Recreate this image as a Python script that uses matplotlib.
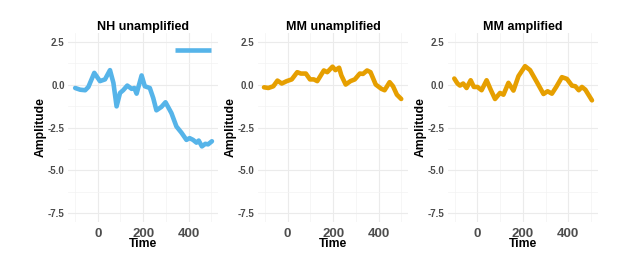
import matplotlib
matplotlib.use("Agg")
from matplotlib import pyplot as plt
from matplotlib.ticker import MultipleLocator

plt.rcParams['font.family'] = ['Liberation Sans', 'DejaVu Sans']

# NH unamplified
nh_time = [-99, -77, -55, -41, -15, 10, 32, 54, 69, 83, 98, 112, 130, 149, 161, 171,
           193, 207, 229, 244, 258, 280, 298, 324, 346, 368, 390, 404, 419, 434, 444,
           458, 473, 485, 502]
nh_amp = [-0.2, -0.3, -0.33, -0.14, 0.68, 0.2, 0.3, 0.84, 0.1, -1.27, -0.49, -0.33,
          -0.06, -0.25, -0.2, -0.53, 0.53, -0.1, -0.2, -0.78, -1.5, -1.3, -1.03,
          -1.66, -2.44, -2.8, -3.22, -3.12, -3.22, -3.38, -3.26, -3.6, -3.45, -3.48, -3.3]

# MM unamplified
mmu_time = [-104, -85, -63, -45, -26, -4, 18, 42, 58, 80, 98, 115, 130, 159, 174, 197,
            210, 226, 236, 255, 276, 295, 317, 331, 349, 364, 387, 412, 426, 448, 463,
            480, 499]
mmu_amp = [-0.16, -0.2, -0.1, 0.23, 0.06, 0.2, 0.3, 0.72, 0.64, 0.64, 0.3, 0.3, 0.2,
           0.82, 0.72, 1.04, 0.84, 0.98, 0.53, 0.0, 0.2, 0.3, 0.64, 0.62, 0.82, 0.72,
           0.0, -0.25, -0.33, 0.14, -0.1, -0.59, -0.84]

# MM amplified
mma_time = [-101, -87, -76, -62, -47, -29, -15, 1, 19, 41, 59, 78, 100, 115, 137, 159,
            181, 210, 232, 262, 291, 309, 328, 347, 372, 394, 416, 431, 446, 460, 475, 504]
mma_amp = [0.35, 0.06, -0.06, 0.06, -0.2, 0.25, -0.14, -0.14, -0.33, 0.25, -0.3, -0.84,
           -0.49, -0.59, 0.1, -0.35, 0.49, 1.07, 0.84, 0.14, -0.55, -0.39, -0.53, -0.14,
           0.43, 0.33, -0.06, -0.1, -0.33, -0.14, -0.3, -0.92]

# short horizontal bar in the first panel
bar_time = [340, 500]
bar_amp = [2.0, 2.0]

titles = ["NH unamplified", "MM unamplified", "MM amplified"]
series = [(nh_time, nh_amp), (mmu_time, mmu_amp), (mma_time, mma_amp)]
colors = ["#56B4E9", "#E69F00", "#E69F00"]

fig = plt.figure(figsize=(6.17, 2.66), dpi=100)
lefts = [0.1104, 0.4183, 0.7256]

for i, (title, (t, a), col) in enumerate(zip(titles, series, colors)):
    ax = fig.add_axes([lefts[i], 0.1654, 0.2434, 0.7105])
    ax.plot(t, a, color=col, lw=3.3, solid_capstyle='round', solid_joinstyle='round')
    if i == 0:
        ax.plot(bar_time, bar_amp, color=col, lw=3.3, solid_capstyle='butt')
    ax.set_xlim(-130, 530)
    ax.set_ylim(-8, 3)
    ax.xaxis.set_major_locator(MultipleLocator(200))
    ax.xaxis.set_minor_locator(MultipleLocator(100))
    ax.yaxis.set_major_locator(MultipleLocator(2.5))
    ax.yaxis.set_minor_locator(MultipleLocator(1.25))
    ax.grid(which='major', color='#ebebeb', lw=0.8)
    ax.grid(which='minor', color='#f3f3f3', lw=0.5)
    ax.set_axisbelow(True)
    for s in ax.spines.values():
        s.set_visible(False)
    ax.tick_params(which='both', length=0)
    ax.tick_params(axis='x', labelsize=9.5, pad=4, labelcolor='#4d4d4d')
    ax.tick_params(axis='y', labelsize=7, pad=2.5, labelcolor='#4d4d4d')
    ax.set_yticks([-7.5, -5.0, -2.5, 0.0, 2.5])
    ax.set_yticklabels(["-7.5", "-5.0", "-2.5", "0.0", "2.5"])
    for lab in ax.get_xticklabels() + ax.get_yticklabels():
        lab.set_fontweight('bold')
    ax.set_title(title, fontsize=9, fontweight='bold', pad=2.5)
    ax.set_xlabel("Time", fontsize=8.7, fontweight='bold', labelpad=-1)
    ax.set_ylabel("Amplitude", fontsize=8.7, fontweight='bold', labelpad=0.5)

fig.savefig("out.png", dpi=100, facecolor='white')
